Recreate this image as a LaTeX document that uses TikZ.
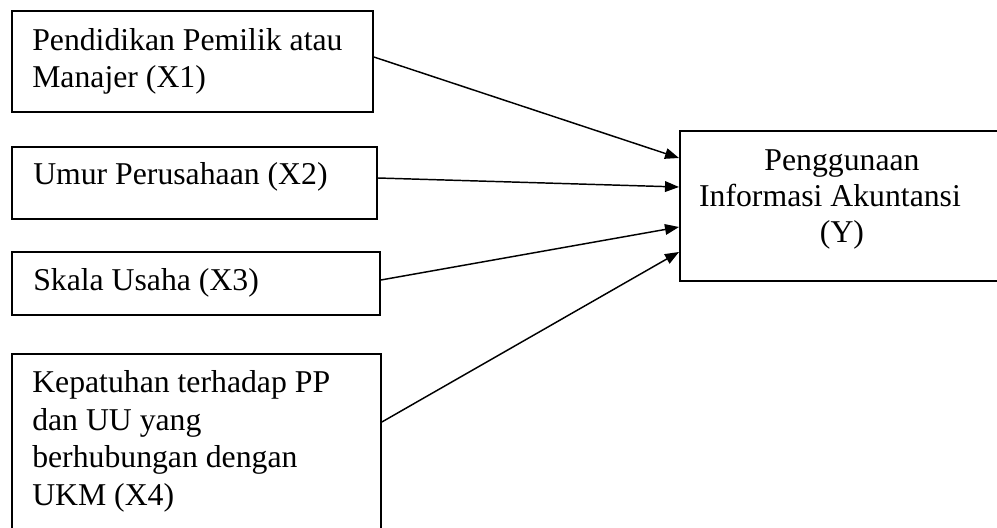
\documentclass[tikz,border=0pt]{standalone}
\usepackage{fontspec}
\setmainfont{Liberation Serif}
\usetikzlibrary{arrows.meta,calc}
\begin{document}
\begin{tikzpicture}[x=0.75pt,y=-0.75pt,
  box/.style={draw, line width=1.4pt, anchor=north west, inner sep=0pt},
  lbl/.style={inner sep=0pt, align=left, font=\fontsize{23.8pt}{28.1pt}\selectfont},
  conn/.style={line width=1.1pt, -{Triangle[length=10.5pt,width=8pt]}}]
\useasboundingbox (0,0) rectangle (997,528);
\clip (0,0) rectangle (997,528);
% boxes
\node[box, minimum width=270.75pt, minimum height=75.75pt] (x1) at (11,10) {};
\node[box, minimum width=273.75pt, minimum height=54pt] (x2) at (11,146) {};
\node[box, minimum width=276pt, minimum height=47.25pt] (x3) at (11,251) {};
\node[box, minimum width=276.75pt, minimum height=150pt] (x4) at (11,353) {};
\node[box, minimum width=244.5pt, minimum height=112.5pt] (y) at (679,130) {};
% texts (base anchor = baseline of the last line)
\node[lbl, anchor=base west] (t1) at (32,88) {Pendidikan Pemilik atau\\Manajer (X1)};
\node[lbl, anchor=base west] (t2) at (33,185) {Umur Perusahaan (X2)};
\node[lbl, anchor=base west] (t3) at (33,290) {Skala Usaha (X3)};
\node[lbl, anchor=base west] (t4) at (32,505) {Kepatuhan terhadap PP\\dan UU yang\\berhubungan dengan\\UKM (X4)};
\node[lbl, align=center, anchor=base, font=\fontsize{23.8pt}{27pt}\selectfont] (ty) at (842,242) {Penggunaan\\Informasi Akuntansi\rule{18pt}{0pt}\\(Y)};
% connectors
\draw[conn] ($(x1.north east)+(0,47)$) -- ($(y.north west)+(0,28)$);
\draw[conn] ($(x2.north east)+(0,32)$) -- ($(y.north west)+(0,57)$);
\draw[conn] ($(x3.north east)+(0,29)$) -- ($(y.north west)+(0,97)$);
\draw[conn] ($(x4.north east)+(0,69)$) -- ($(y.north west)+(0,122)$);
\end{tikzpicture}
\end{document}
